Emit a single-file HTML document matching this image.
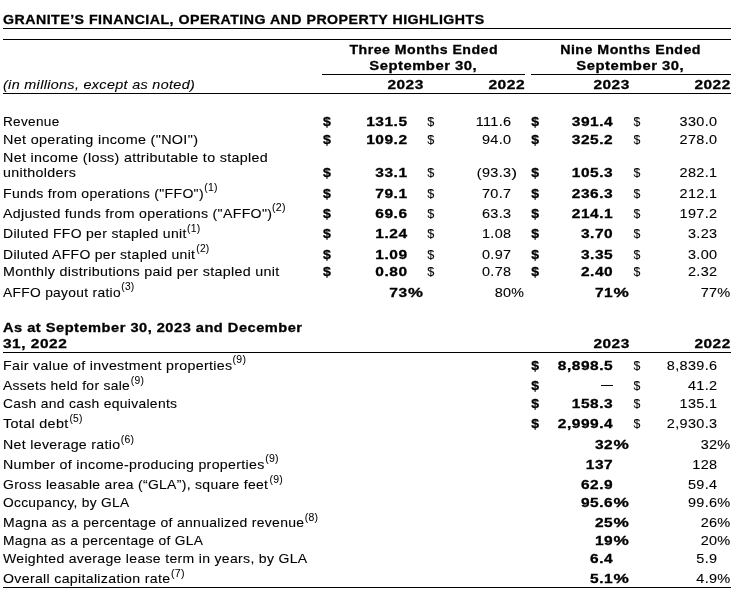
<!DOCTYPE html>
<html><head><meta charset="utf-8"><title>Granite highlights</title>
<style>
html,body{margin:0;padding:0;background:#fff;}
body{width:753px;height:599px;position:relative;overflow:hidden;color:#000;font-family:"Liberation Sans",sans-serif;}
#p{position:absolute;left:0;top:0;width:753px;height:599px;overflow:hidden;background:#fff;will-change:transform;filter:grayscale(1);}
span{position:absolute;left:0;top:0;white-space:pre;line-height:16px;transform-origin:0 0;}
.l{position:absolute;height:1px;background:#000;}
.r{font-size:13.2px;font-weight:normal;font-style:normal;letter-spacing:0.3px;-webkit-text-stroke:0.1px #000;}.b{font-size:13.3px;font-weight:bold;font-style:normal;letter-spacing:0.45px;-webkit-text-stroke:0.3px #000;}.i{font-size:13.2px;font-weight:normal;font-style:italic;letter-spacing:0.3px;-webkit-text-stroke:0.1px #000;}.s{font-size:10.1px;font-weight:normal;font-style:normal;letter-spacing:0.25px;-webkit-text-stroke:0.05px #000;}
</style></head><body><div id="p">
<div class="l" style="left:3px;top:28px;width:728px"></div>
<div class="l" style="left:3px;top:39px;width:728px"></div>
<div class="l" style="left:322px;top:74px;width:203px"></div>
<div class="l" style="left:531px;top:74px;width:200px"></div>
<div class="l" style="left:3px;top:93px;width:728px"></div>
<div class="l" style="left:3px;top:352px;width:728px"></div>
<div class="l" style="left:3px;top:587px;width:728px"></div>
<div class="l" style="left:600.6px;top:384.6px;width:12.3px;height:1.1px"></div>
<span class="b" style="transform:translate(3.00px,12px) scaleX(1.0661)">GRANITE’S FINANCIAL, OPERATING AND PROPERTY HIGHLIGHTS</span>
<span class="b" style="transform:translate(349.44px,42px) scaleX(1.0648)">Three Months Ended</span>
<span class="b" style="transform:translate(369.25px,58px) scaleX(1.1152)">September 30,</span>
<span class="b" style="transform:translate(560.17px,42px) scaleX(1.0690)">Nine Months Ended</span>
<span class="b" style="transform:translate(576.25px,58px) scaleX(1.1152)">September 30,</span>
<span class="i" style="transform:translate(3.00px,77px) scaleX(1.0909)">(in millions, except as noted)</span>
<span class="b" style="transform:translate(387.40px,77px) scaleX(1.1587)">2023</span>
<span class="b" style="transform:translate(488.39px,77px) scaleX(1.1711)">2022</span>
<span class="b" style="transform:translate(593.40px,77px) scaleX(1.1587)">2023</span>
<span class="b" style="transform:translate(694.40px,77px) scaleX(1.1580)">2022</span>
<span class="r" style="transform:translate(3.00px,114px) scaleX(1.0302)">Revenue</span>
<span class="r" style="transform:translate(3.00px,132px) scaleX(1.0907)">Net operating income (&quot;NOI&quot;)</span>
<span class="r" style="transform:translate(3.00px,150px) scaleX(1.0833)">Net income (loss) attributable to stapled</span>
<span class="r" style="transform:translate(3.00px,165px) scaleX(1.0794)">unitholders</span>
<span class="r" style="transform:translate(3.00px,186px) scaleX(1.0640)">Funds from operations (&quot;FFO&quot;)</span>
<span class="s" style="transform:translate(204.30px,180px) scaleX(1.0364)">(1)</span>
<span class="r" style="transform:translate(3.00px,206px) scaleX(1.0720)">Adjusted funds from operations (&quot;AFFO&quot;)</span>
<span class="s" style="transform:translate(272.00px,200px) scaleX(1.0528)">(2)</span>
<span class="r" style="transform:translate(3.00px,226px) scaleX(1.0597)">Diluted FFO per stapled unit</span>
<span class="s" style="transform:translate(187.11px,221px) scaleX(1.0282)">(1)</span>
<span class="r" style="transform:translate(3.00px,247px) scaleX(1.0581)">Diluted AFFO per stapled unit</span>
<span class="s" style="transform:translate(196.21px,241px) scaleX(1.0199)">(2)</span>
<span class="r" style="transform:translate(3.00px,264px) scaleX(1.0826)">Monthly distributions paid per stapled unit</span>
<span class="r" style="transform:translate(3.00px,285px) scaleX(1.0446)">AFFO payout ratio</span>
<span class="s" style="transform:translate(121.21px,279px) scaleX(1.0199)">(3)</span>
<span class="r" style="transform:translate(3.00px,358px) scaleX(1.0784)">Fair value of investment properties</span>
<span class="s" style="transform:translate(232.60px,352px) scaleX(1.0364)">(9)</span>
<span class="r" style="transform:translate(3.00px,378px) scaleX(1.0500)">Assets held for sale</span>
<span class="s" style="transform:translate(130.81px,373px) scaleX(1.0199)">(9)</span>
<span class="r" style="transform:translate(3.00px,396px) scaleX(1.0510)">Cash and cash equivalents</span>
<span class="r" style="transform:translate(3.00px,416px) scaleX(1.0889)">Total debt</span>
<span class="s" style="transform:translate(69.41px,411px) scaleX(1.0199)">(5)</span>
<span class="r" style="transform:translate(3.00px,437px) scaleX(1.0725)">Net leverage ratio</span>
<span class="s" style="transform:translate(120.80px,432px) scaleX(1.0364)">(6)</span>
<span class="r" style="transform:translate(3.00px,457px) scaleX(1.0748)">Number of income-producing properties</span>
<span class="s" style="transform:translate(265.20px,451px) scaleX(1.0446)">(9)</span>
<span class="r" style="transform:translate(3.00px,477px) scaleX(1.0571)">Gross leasable area (“GLA”), square feet</span>
<span class="s" style="transform:translate(269.40px,472px) scaleX(1.0364)">(9)</span>
<span class="r" style="transform:translate(3.00px,495px) scaleX(1.0422)">Occupancy, by GLA</span>
<span class="r" style="transform:translate(3.00px,515px) scaleX(1.0579)">Magna as a percentage of annualized revenue</span>
<span class="s" style="transform:translate(304.70px,510px) scaleX(1.0364)">(8)</span>
<span class="r" style="transform:translate(3.00px,533px) scaleX(1.0451)">Magna as a percentage of GLA</span>
<span class="r" style="transform:translate(3.00px,551px) scaleX(1.0633)">Weighted average lease term in years, by GLA</span>
<span class="r" style="transform:translate(3.00px,571px) scaleX(1.0715)">Overall capitalization rate</span>
<span class="s" style="transform:translate(170.90px,566px) scaleX(1.0528)">(7)</span>
<span class="b" style="transform:translate(3.00px,320px) scaleX(1.0997)">As at September 30, 2023 and December</span>
<span class="b" style="transform:translate(3.00px,336px) scaleX(1.1617)">31, 2022</span>
<span class="b" style="transform:translate(593.40px,336px) scaleX(1.1587)">2023</span>
<span class="b" style="transform:translate(694.40px,336px) scaleX(1.1580)">2022</span>
<span class="b" style="transform:translate(322.97px,114px) scaleX(1.0649)">$</span>
<span class="r" style="transform:translate(427.29px,114px) scaleX(0.9596)">$</span>
<span class="b" style="transform:translate(531.27px,114px) scaleX(1.0514)">$</span>
<span class="r" style="transform:translate(633.50px,114px) scaleX(0.9318)">$</span>
<span class="b" style="transform:translate(322.97px,132px) scaleX(1.0649)">$</span>
<span class="r" style="transform:translate(427.29px,132px) scaleX(0.9596)">$</span>
<span class="b" style="transform:translate(531.27px,132px) scaleX(1.0514)">$</span>
<span class="r" style="transform:translate(633.50px,132px) scaleX(0.9318)">$</span>
<span class="b" style="transform:translate(322.97px,165px) scaleX(1.0649)">$</span>
<span class="r" style="transform:translate(427.29px,165px) scaleX(0.9596)">$</span>
<span class="b" style="transform:translate(531.27px,165px) scaleX(1.0514)">$</span>
<span class="r" style="transform:translate(633.50px,165px) scaleX(0.9318)">$</span>
<span class="r" style="transform:translate(511.23px,165px) scaleX(1.3281)">)</span>
<span class="b" style="transform:translate(322.97px,186px) scaleX(1.0649)">$</span>
<span class="r" style="transform:translate(427.29px,186px) scaleX(0.9596)">$</span>
<span class="b" style="transform:translate(531.27px,186px) scaleX(1.0514)">$</span>
<span class="r" style="transform:translate(633.50px,186px) scaleX(0.9318)">$</span>
<span class="b" style="transform:translate(322.97px,206px) scaleX(1.0649)">$</span>
<span class="r" style="transform:translate(427.29px,206px) scaleX(0.9596)">$</span>
<span class="b" style="transform:translate(531.27px,206px) scaleX(1.0514)">$</span>
<span class="r" style="transform:translate(633.50px,206px) scaleX(0.9318)">$</span>
<span class="b" style="transform:translate(322.97px,226px) scaleX(1.0649)">$</span>
<span class="r" style="transform:translate(427.29px,226px) scaleX(0.9596)">$</span>
<span class="b" style="transform:translate(531.27px,226px) scaleX(1.0514)">$</span>
<span class="r" style="transform:translate(633.50px,226px) scaleX(0.9318)">$</span>
<span class="b" style="transform:translate(322.97px,247px) scaleX(1.0649)">$</span>
<span class="r" style="transform:translate(427.29px,247px) scaleX(0.9596)">$</span>
<span class="b" style="transform:translate(531.27px,247px) scaleX(1.0514)">$</span>
<span class="r" style="transform:translate(633.50px,247px) scaleX(0.9318)">$</span>
<span class="b" style="transform:translate(322.97px,264px) scaleX(1.0649)">$</span>
<span class="r" style="transform:translate(427.29px,264px) scaleX(0.9596)">$</span>
<span class="b" style="transform:translate(531.27px,264px) scaleX(1.0514)">$</span>
<span class="r" style="transform:translate(633.50px,264px) scaleX(0.9318)">$</span>
<span class="b" style="transform:translate(407.98px,285px) scaleX(1.2622)">%</span>
<span class="r" style="transform:translate(511.29px,285px) scaleX(1.0820)">%</span>
<span class="b" style="transform:translate(613.57px,285px) scaleX(1.2968)">%</span>
<span class="r" style="transform:translate(717.28px,285px) scaleX(1.1086)">%</span>
<span class="b" style="transform:translate(531.27px,358px) scaleX(1.0514)">$</span>
<span class="r" style="transform:translate(633.50px,358px) scaleX(0.9318)">$</span>
<span class="b" style="transform:translate(531.27px,378px) scaleX(1.0514)">$</span>
<span class="r" style="transform:translate(633.50px,378px) scaleX(0.9318)">$</span>
<span class="b" style="transform:translate(531.27px,396px) scaleX(1.0514)">$</span>
<span class="r" style="transform:translate(633.50px,396px) scaleX(0.9318)">$</span>
<span class="b" style="transform:translate(531.27px,416px) scaleX(1.0514)">$</span>
<span class="r" style="transform:translate(633.50px,416px) scaleX(0.9318)">$</span>
<span class="b" style="transform:translate(613.57px,437px) scaleX(1.2968)">%</span>
<span class="r" style="transform:translate(717.28px,437px) scaleX(1.1086)">%</span>
<span class="b" style="transform:translate(613.57px,495px) scaleX(1.2968)">%</span>
<span class="r" style="transform:translate(717.28px,495px) scaleX(1.1086)">%</span>
<span class="b" style="transform:translate(613.57px,515px) scaleX(1.2968)">%</span>
<span class="r" style="transform:translate(717.28px,515px) scaleX(1.1086)">%</span>
<span class="b" style="transform:translate(613.57px,533px) scaleX(1.2968)">%</span>
<span class="r" style="transform:translate(717.28px,533px) scaleX(1.1086)">%</span>
<span class="b" style="transform:translate(613.57px,571px) scaleX(1.2968)">%</span>
<span class="r" style="transform:translate(717.28px,571px) scaleX(1.1086)">%</span>
<span class="b" style="transform:translate(366.18px,114px) scaleX(1.1650)">131.5</span>
<span class="r" style="transform:translate(475.72px,114px) scaleX(1.0950)">111.6</span>
<span class="b" style="transform:translate(571.78px,114px) scaleX(1.1650)">391.4</span>
<span class="r" style="transform:translate(679.56px,114px) scaleX(1.0950)">330.0</span>
<span class="b" style="transform:translate(366.18px,132px) scaleX(1.1650)">109.2</span>
<span class="r" style="transform:translate(481.93px,132px) scaleX(1.0950)">94.0</span>
<span class="b" style="transform:translate(571.78px,132px) scaleX(1.1650)">325.2</span>
<span class="r" style="transform:translate(679.56px,132px) scaleX(1.0950)">278.0</span>
<span class="b" style="transform:translate(375.31px,165px) scaleX(1.1650)">33.1</span>
<span class="r" style="transform:translate(476.80px,165px) scaleX(1.0950)">(93.3</span>
<span class="b" style="transform:translate(571.78px,165px) scaleX(1.1650)">105.3</span>
<span class="r" style="transform:translate(679.56px,165px) scaleX(1.0950)">282.1</span>
<span class="b" style="transform:translate(375.31px,186px) scaleX(1.1650)">79.1</span>
<span class="r" style="transform:translate(481.93px,186px) scaleX(1.0950)">70.7</span>
<span class="b" style="transform:translate(571.78px,186px) scaleX(1.1650)">236.3</span>
<span class="r" style="transform:translate(679.56px,186px) scaleX(1.0950)">212.1</span>
<span class="b" style="transform:translate(375.31px,206px) scaleX(1.1650)">69.6</span>
<span class="r" style="transform:translate(481.93px,206px) scaleX(1.0950)">63.3</span>
<span class="b" style="transform:translate(571.78px,206px) scaleX(1.1650)">214.1</span>
<span class="r" style="transform:translate(679.56px,206px) scaleX(1.0950)">197.2</span>
<span class="b" style="transform:translate(375.31px,226px) scaleX(1.1650)">1.24</span>
<span class="r" style="transform:translate(481.93px,226px) scaleX(1.0950)">1.08</span>
<span class="b" style="transform:translate(580.91px,226px) scaleX(1.1650)">3.70</span>
<span class="r" style="transform:translate(687.93px,226px) scaleX(1.0950)">3.23</span>
<span class="b" style="transform:translate(375.31px,247px) scaleX(1.1650)">1.09</span>
<span class="r" style="transform:translate(481.93px,247px) scaleX(1.0950)">0.97</span>
<span class="b" style="transform:translate(580.91px,247px) scaleX(1.1650)">3.35</span>
<span class="r" style="transform:translate(687.93px,247px) scaleX(1.0950)">3.00</span>
<span class="b" style="transform:translate(375.31px,264px) scaleX(1.1650)">0.80</span>
<span class="r" style="transform:translate(481.93px,264px) scaleX(1.0950)">0.78</span>
<span class="b" style="transform:translate(580.91px,264px) scaleX(1.1650)">2.40</span>
<span class="r" style="transform:translate(687.93px,264px) scaleX(1.0950)">2.32</span>
<span class="b" style="transform:translate(389.28px,285px) scaleX(1.1650)">73</span>
<span class="r" style="transform:translate(494.63px,285px) scaleX(1.0950)">80</span>
<span class="b" style="transform:translate(594.88px,285px) scaleX(1.1650)">71</span>
<span class="r" style="transform:translate(700.63px,285px) scaleX(1.0950)">77</span>
<span class="b" style="transform:translate(557.81px,358px) scaleX(1.1650)">8,898.5</span>
<span class="r" style="transform:translate(666.87px,358px) scaleX(1.0950)">8,839.6</span>
<span class="r" style="transform:translate(687.93px,378px) scaleX(1.0950)">41.2</span>
<span class="b" style="transform:translate(571.78px,396px) scaleX(1.1650)">158.3</span>
<span class="r" style="transform:translate(679.56px,396px) scaleX(1.0950)">135.1</span>
<span class="b" style="transform:translate(557.81px,416px) scaleX(1.1650)">2,999.4</span>
<span class="r" style="transform:translate(666.87px,416px) scaleX(1.0950)">2,930.3</span>
<span class="b" style="transform:translate(594.88px,437px) scaleX(1.1650)">32</span>
<span class="r" style="transform:translate(700.63px,437px) scaleX(1.0950)">32</span>
<span class="b" style="transform:translate(585.74px,457px) scaleX(1.1650)">137</span>
<span class="r" style="transform:translate(692.28px,457px) scaleX(1.0950)">128</span>
<span class="b" style="transform:translate(580.91px,477px) scaleX(1.1650)">62.9</span>
<span class="r" style="transform:translate(687.93px,477px) scaleX(1.0950)">59.4</span>
<span class="b" style="transform:translate(580.91px,495px) scaleX(1.1650)">95.6</span>
<span class="r" style="transform:translate(687.93px,495px) scaleX(1.0950)">99.6</span>
<span class="b" style="transform:translate(594.88px,515px) scaleX(1.1650)">25</span>
<span class="r" style="transform:translate(700.63px,515px) scaleX(1.0950)">26</span>
<span class="b" style="transform:translate(594.88px,533px) scaleX(1.1650)">19</span>
<span class="r" style="transform:translate(700.63px,533px) scaleX(1.0950)">20</span>
<span class="b" style="transform:translate(590.05px,551px) scaleX(1.1650)">6.4</span>
<span class="r" style="transform:translate(696.30px,551px) scaleX(1.0950)">5.9</span>
<span class="b" style="transform:translate(590.05px,571px) scaleX(1.1650)">5.1</span>
<span class="r" style="transform:translate(696.30px,571px) scaleX(1.0950)">4.9</span>
</div></body></html>
